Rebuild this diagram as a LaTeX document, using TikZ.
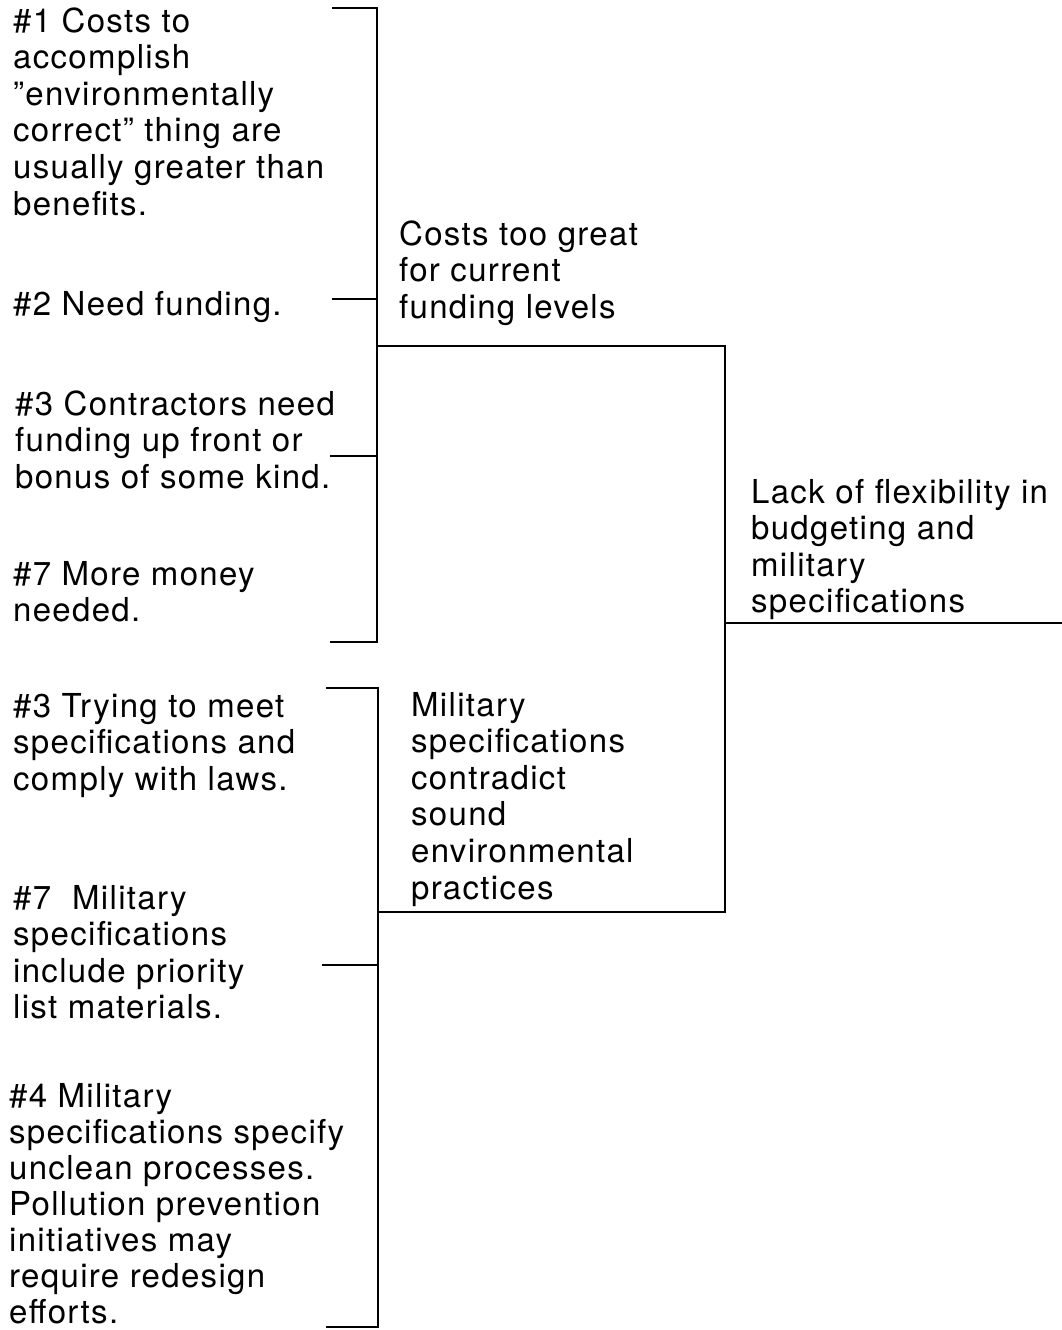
\documentclass[tikz,border=0pt]{standalone}
\usepackage{fontspec}
\setmainfont{TeX Gyre Heros}[LetterSpace=4]
% fixed-height strut for the first line of every label, so that a label
% placed at (x, baseline-26) has its first baseline at the given height
\newcommand\firstline{\rule{0pt}{26pt}}
\begin{document}
\begin{tikzpicture}[x=1pt,y=-1pt,line width=2.3pt,line join=miter,
  txt/.style={inner sep=0pt,anchor=north west,align=left,
    font=\fontsize{33}{36.6}\selectfont}]
\useasboundingbox (0,0) rectangle (1062,1330);

% causes, first group
\node[txt] (c1) at (12,31-26) {\firstline\#1 Costs to\\accomplish\\"environmentally\\correct" thing are\\usually greater than\\benefits.};
\node[txt] (c2) at (12,314-26) {\firstline\#2 Need funding.};
\node[txt] (c3) at (14,414-26) {\firstline\#3 Contractors need\\funding up front or\\bonus of some kind.};
\node[txt] (c4) at (12,584-26) {\firstline\#7 More money\\needed.};

% causes, second group
\node[txt] (c5) at (12,716-26) {\firstline\#3 Trying to meet\\specifications and\\comply with laws.};
\node[txt] (c6) at (12,908-26) {\firstline\#7\ \ Military\\specifications\\include priority\\list materials.};
\node[txt,font=\fontsize{33}{36}\selectfont] (c7) at (8,1106-26) {\firstline\#4 Military\\specifications specify\\unclean processes.\\Pollution prevention\\initiatives may\\require redesign\\efforts.};

% intermediate headings
\node[txt] (h1) at (398,244-26) {\firstline Costs too great\\for current\\funding levels};
\node[txt] (h2) at (410,715-26) {\firstline Military\\specifications\\contradict\\sound\\environmental\\practices};

% final heading
\node[txt] (h3) at (750,502-26) {\firstline Lack of flexibility in\\budgeting and\\military\\specifications};

% bracket joining the funding causes
\coordinate (a1) at (332,8);    \coordinate (a1r) at (377,8);
\coordinate (a2) at (332,299);  \coordinate (a2r) at (377,299);
\coordinate (a3) at (330,456);  \coordinate (a3r) at (377,456);
\coordinate (a4) at (330,642);  \coordinate (a4r) at (377,642);
\coordinate (aj) at (377,346);

% bracket joining the specification causes
\coordinate (m1) at (326,688);  \coordinate (m1r) at (378,688);
\coordinate (m2) at (322,965);  \coordinate (m2r) at (378,965);
\coordinate (m3) at (326,1327); \coordinate (m3r) at (378,1327);
\coordinate (mj) at (378,912);

% bracket joining the two headings
\coordinate (r1) at (725,346);
\coordinate (r2) at (725,912);
\coordinate (r3) at (725,623);
\coordinate (out) at (1062,623);

\draw (a1) -- (a1r) -- (a4r) -- (a4);
\draw (a2) -- (a2r);
\draw (a3) -- (a3r);

\draw (m1) -- (m1r) -- (m3r) -- (m3);
\draw (m2) -- (m2r);

\draw (aj) -- (r1) -- (r2) -- (mj);
\draw (r3) -- (out);
\end{tikzpicture}
\end{document}
